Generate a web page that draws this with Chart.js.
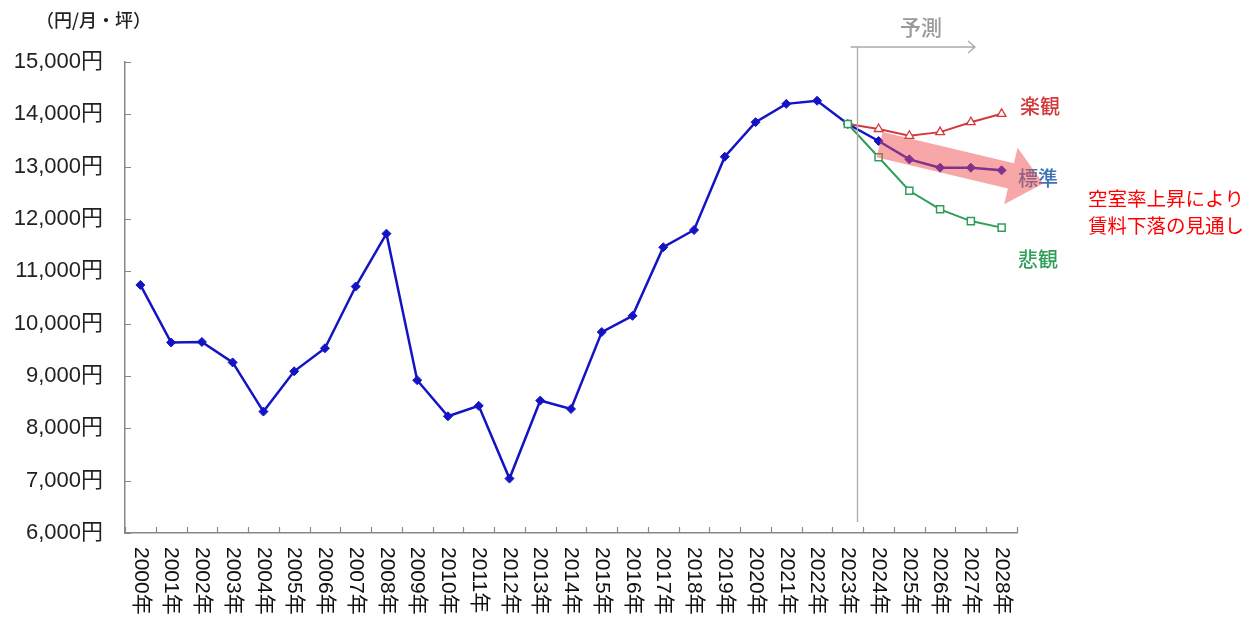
<!DOCTYPE html>
<html lang="ja">
<head>
<meta charset="utf-8">
<script src="https://cdn.jsdelivr.net/npm/chart.js@4.4.1/dist/chart.umd.min.js"></script>
<style>
  html, body { margin: 0; padding: 0; background: #fff; }
  #wrap { position: relative; width: 1253px; height: 625px; }
</style>
</head>
<body>
<div id="wrap"><canvas id="rentChart"></canvas></div>
<script>
// 年（横軸）
const years = ["2000年","2001年","2002年","2003年","2004年","2005年","2006年","2007年","2008年","2009年",
  "2010年","2011年","2012年","2013年","2014年","2015年","2016年","2017年","2018年","2019年",
  "2020年","2021年","2022年","2023年","2024年","2025年","2026年","2027年","2028年"];

// 実績 + 標準シナリオ（円/月・坪）
const standardRent = [10740, 9640, 9650, 9260, 8320, 9090, 9530, 10710, 11720, 8920,
  8230, 8430, 7040, 8530, 8370, 9840, 10150, 11460, 11790, 13190,
  13850, 14200, 14260, 13815, 13490, 13140, 12980, 12980, 12930];

// 楽観シナリオ（2023年〜）
const optimisticRent = [null, null, null, null, null, null, null, null, null, null,
  null, null, null, null, null, null, null, null, null, null,
  null, null, null, 13815, 13720, 13590, 13660, 13850, 14010];

// 悲観シナリオ（2023年〜）
const pessimisticRent = [null, null, null, null, null, null, null, null, null, null,
  null, null, null, null, null, null, null, null, null, null,
  null, null, null, 13815, 13180, 12540, 12185, 11960, 11835];

const yMin = 6000, yMax = 15000, yStep = 1000;
const JP_FONT = '"Liberation Sans", Arial, "Noto Sans CJK JP", sans-serif';

const annotations = {
  id: 'annotations',
  afterDatasetsDraw(chart) {
    const { ctx, scales: { x, y }, chartArea } = chart;
    ctx.save();

    // 内向きの目盛り
    ctx.strokeStyle = '#888';
    ctx.lineWidth = 1.2;
    ctx.beginPath();
    for (let v = yMin; v <= yMax; v += yStep) {
      const py = Math.round(y.getPixelForValue(v)) + 0.5;
      ctx.moveTo(chartArea.left, py);
      ctx.lineTo(chartArea.left + 6, py);
    }
    for (let i = 0; i <= years.length; i++) {
      const px = Math.round(x.getPixelForValue(i - 0.5)) + 0.5;
      ctx.moveTo(px, chartArea.bottom);
      ctx.lineTo(px, chartArea.bottom - 6);
    }
    ctx.stroke();

    // 予測の区切り線と矢印
    const sx = Math.round(x.getPixelForValue(23.3)) + 0.5;
    ctx.strokeStyle = '#aaa';
    ctx.lineWidth = 1.3;
    ctx.beginPath();
    ctx.moveTo(sx, 47);
    ctx.lineTo(sx, chartArea.bottom - 11);
    ctx.moveTo(sx - 7, 47);
    ctx.lineTo(975, 47);
    ctx.moveTo(968, 41);
    ctx.lineTo(975, 47);
    ctx.lineTo(968, 53);
    ctx.stroke();
    ctx.fillStyle = '#999';
    ctx.font = '500 21px "Noto Sans CJK JP", sans-serif';
    ctx.textAlign = 'left';
    ctx.textBaseline = 'middle';
    ctx.fillText('予測', 900, 27);

    // シナリオ名
    ctx.font = '500 20px "Noto Sans CJK JP", sans-serif';
    ctx.fillStyle = '#d43a3a';
    ctx.fillText('楽観', 1020, 106);
    ctx.fillStyle = '#3b73b4';
    ctx.fillText('標準', 1018, 178);
    ctx.fillStyle = '#2f9e5a';
    ctx.fillText('悲観', 1018, 259);

    // 下落トレンドの矢印（半透明）
    const x0 = x.getPixelForValue(24) + 1;
    const y0 = y.getPixelForValue(13420);
    const ang = Math.atan2(39, 164);
    const len = 168, bw = 13, hl = 33, hw = 29;
    ctx.translate(x0, y0);
    ctx.rotate(ang);
    ctx.fillStyle = 'rgba(240, 80, 80, 0.5)';
    ctx.beginPath();
    ctx.moveTo(0, -bw);
    ctx.lineTo(len - hl, -bw);
    ctx.lineTo(len - hl, -hw);
    ctx.lineTo(len, 0);
    ctx.lineTo(len - hl, hw);
    ctx.lineTo(len - hl, bw);
    ctx.lineTo(0, bw);
    ctx.closePath();
    ctx.fill();
    ctx.setTransform(1, 0, 0, 1, 0, 0);

    // 注記
    ctx.fillStyle = '#ff0000';
    ctx.font = '19.5px "Noto Sans CJK JP", sans-serif';
    ctx.fillText('空室率上昇により', 1088, 199);
    ctx.fillText('賃料下落の見通し', 1088, 226);

    // 単位
    ctx.fillStyle = '#222';
    ctx.font = '500 18px "Noto Sans CJK JP", sans-serif';
    ctx.fillText('（円/月・坪）', 36, 20);

    // 横軸ラベル（縦書き方向に回転）
    ctx.font = '21px ' + JP_FONT;
    ctx.fillStyle = '#111';
    years.forEach((lab, i) => {
      const px = x.getPixelForValue(i);
      ctx.save();
      ctx.translate(px, chartArea.bottom + 14);
      ctx.rotate(Math.PI / 2);
      ctx.textAlign = 'left';
      ctx.textBaseline = 'middle';
      ctx.fillText(lab, 0, 0);
      ctx.restore();
    });

    ctx.restore();
  }
};

new Chart(document.getElementById('rentChart'), {
  type: 'line',
  data: {
    labels: years,
    datasets: [
      {
        label: '悲観',
        data: pessimisticRent,
        borderColor: '#2f9e5a',
        borderWidth: 2,
        pointStyle: 'rect',
        pointRadius: 5,
        pointBorderWidth: 1.5,
        pointBackgroundColor: '#fff',
        pointBorderColor: '#2f9e5a',
        tension: 0,
        order: 0
      },
      {
        label: '楽観',
        data: optimisticRent,
        borderColor: '#d43a3a',
        borderWidth: 2,
        pointStyle: 'triangle',
        pointRadius: c => c.dataIndex === 23 ? 0 : 5,
        pointBorderWidth: 1.3,
        pointBackgroundColor: '#fff',
        pointBorderColor: '#d43a3a',
        tension: 0,
        order: 1
      },
      {
        label: '標準',
        data: standardRent,
        borderColor: '#1414c4',
        borderWidth: 2.5,
        pointStyle: 'rectRot',
        pointRadius: 4.5,
        pointBorderWidth: 1,
        pointBackgroundColor: '#1414c4',
        pointBorderColor: '#1414c4',
        tension: 0,
        order: 2
      }
    ]
  },
  options: {
    responsive: true,
    maintainAspectRatio: false,
    animation: false,
    layout: { padding: { left: 0, top: 62, right: 236, bottom: 0 } },
    plugins: {
      legend: { display: false },
      tooltip: { enabled: false }
    },
    scales: {
      x: {
        type: 'category',
        offset: true,
        grid: { display: false, drawTicks: false },
        border: { display: true, color: '#888', width: 1.5 },
        ticks: { display: false },
        afterFit(scale) { scale.height = 92; }
      },
      y: {
        min: yMin,
        max: yMax,
        grid: { display: false, drawTicks: false },
        border: { display: true, color: '#888', width: 1.5 },
        ticks: {
          stepSize: yStep,
          padding: 22,
          color: '#222',
          font: { family: JP_FONT, size: 22 },
          callback: v => v.toLocaleString('en-US') + '円'
        },
        afterFit(scale) { scale.width = 125; }
      }
    }
  },
  plugins: [annotations]
});
</script>
</body>
</html>
